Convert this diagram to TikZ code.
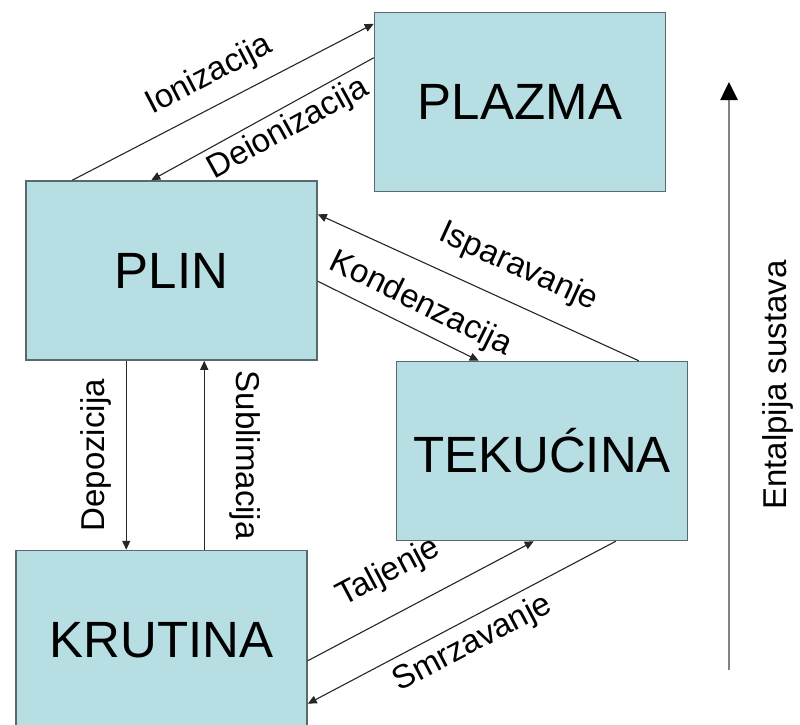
\documentclass[tikz,border=0pt]{standalone}
\usepackage{fontspec}
\setmainfont{Liberation Sans}
\usepackage{xcolor}
\usepackage{tikz}
\usetikzlibrary{arrows.meta,positioning,calc}

\definecolor{statefill}{RGB}{183,222,226}
\definecolor{stateedge}{RGB}{88,106,108}
\definecolor{axisgray}{RGB}{130,130,130}

\begin{document}
\begin{tikzpicture}[
    x=1pt, y=-1pt,
    state/.style={rectangle, draw=stateedge, line width=1.5pt, fill=statefill, minimum width=291pt, minimum height=179pt, inner sep=0pt, font=\fontsize{51}{60}\selectfont},
    trans/.style={draw=black!85, line width=1.1pt, -{Triangle[length=9pt,width=8pt]}},
    lbl/.style={font=\fontsize{33}{40}\selectfont, inner sep=2pt}
]
\useasboundingbox (0,0) rectangle (800,725);

% States of matter
\node[state] (plin) at (171.5,270.5) {PLIN};
\node[state, above right=-12pt and 56pt of plin] (plazma) {PLAZMA};
\node[state, below right=0pt and 78pt of plin] (tekucina) {TEKUĆINA};
\node[state, below=189pt of plin, xshift=-10pt] (krutina) {KRUTINA};

% Phase transitions
\draw[trans] ([xshift=47pt]plin.north west) -- node[lbl, sloped, above=12pt, pos=0.5] {Ionizacija} ([yshift=-12pt]plazma.north west);
\draw[trans] ([yshift=-46pt]plazma.north west) -- node[lbl, sloped, below=3pt, pos=0.43] {Deionizacija} ([xshift=126pt]plin.north west);
\draw[trans] ([xshift=243pt]tekucina.north west) -- node[lbl, sloped, above=17pt, pos=0.42] {Isparavanje} ([yshift=-34pt]plin.north east);
\draw[trans] ([yshift=-101pt]plin.north east) -- node[lbl, sloped, above=7pt, pos=0.57] {Kondenzacija} ([xshift=83pt]tekucina.north west);
\draw[trans] ([xshift=101pt]plin.south west) -- node[lbl, rotate=90, anchor=south, outer sep=13pt, pos=0.5] {Depozicija} ([xshift=101pt]plin.south west |- krutina.north);
\draw[trans] ([xshift=179pt]plin.south west |- krutina.north) -- node[lbl, rotate=-90, anchor=south, outer sep=23pt, pos=0.5] {Sublimacija} ([xshift=179pt]plin.south west);
\draw[trans] ([yshift=-111pt]krutina.north east) -- node[lbl, sloped, above=22pt, pos=0.44] {Taljenje} ([xshift=138pt]tekucina.south west);
\draw[trans] ([xshift=220pt]tekucina.south west) -- node[lbl, sloped, below=6pt, pos=0.5] {Smrzavanje} ([yshift=-154pt]krutina.north east);

% Enthalpy axis
\coordinate (hlow) at (729,670);
\coordinate (hhigh) at (729,82);
\draw[axisgray, line width=2.6pt, -{Triangle[length=18pt,width=17pt,color=black]}] (hlow) -- (hhigh);
\node[lbl, rotate=90] (entalpija) at (778,385) {Entalpija sustava};

\end{tikzpicture}
\end{document}
